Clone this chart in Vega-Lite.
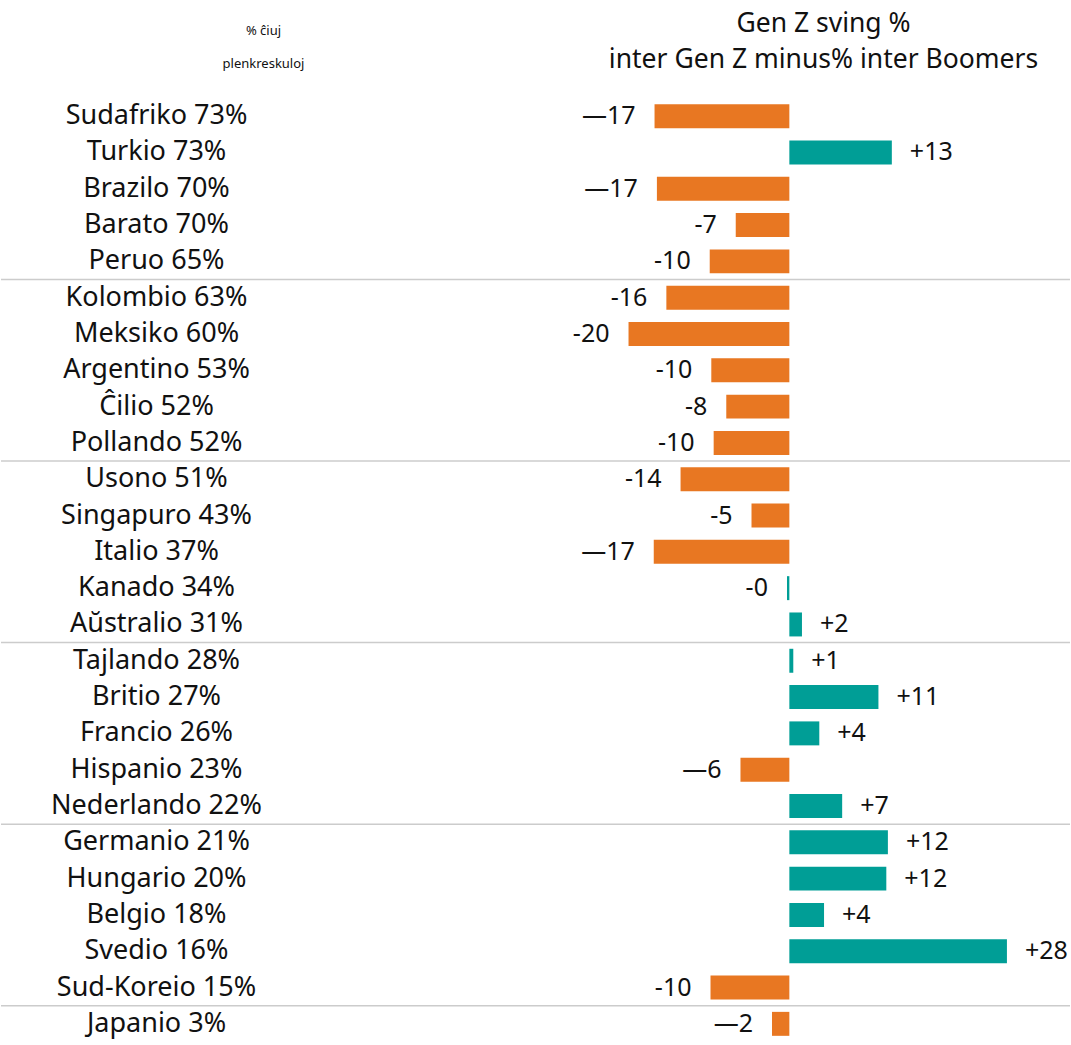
{
  "$schema": "https://vega.github.io/schema/vega-lite/v6.json",
  "width": 1071,
  "height": 1045,
  "autosize": {"type": "fit", "contains": "padding"},
  "padding": {"top": 10, "bottom": 3, "left": 0, "right": 0},
  "background": "white",
  "config": {"view": {"stroke": null}, "font": "Noto Sans"},
  "data": {
    "values": [
      {"label": "Sudafriko 73%", "value": -17.1, "txt": "—17", "dir": "down"},
      {"label": "Turkio 73%", "value": 13.0, "txt": "+13", "dir": "up"},
      {"label": "Brazilo 70%", "value": -16.8, "txt": "—17", "dir": "down"},
      {"label": "Barato 70%", "value": -6.8, "txt": "-7", "dir": "down"},
      {"label": "Peruo 65%", "value": -10.1, "txt": "-10", "dir": "down"},
      {"label": "Kolombio 63%", "value": -15.6, "txt": "-16", "dir": "down"},
      {"label": "Meksiko 60%", "value": -20.4, "txt": "-20", "dir": "down"},
      {"label": "Argentino 53%", "value": -9.9, "txt": "-10", "dir": "down"},
      {"label": "Ĉilio 52%", "value": -8.0, "txt": "-8", "dir": "down"},
      {"label": "Pollando 52%", "value": -9.6, "txt": "-10", "dir": "down"},
      {"label": "Usono 51%", "value": -13.8, "txt": "-14", "dir": "down"},
      {"label": "Singapuro 43%", "value": -4.8, "txt": "-5", "dir": "down"},
      {"label": "Italio 37%", "value": -17.2, "txt": "—17", "dir": "down"},
      {"label": "Kanado 34%", "value": -0.3, "txt": "-0", "dir": "up"},
      {"label": "Aŭstralio 31%", "value": 1.6, "txt": "+2", "dir": "up"},
      {"label": "Tajlando 28%", "value": 0.5, "txt": "+1", "dir": "up"},
      {"label": "Britio 27%", "value": 11.3, "txt": "+11", "dir": "up"},
      {"label": "Francio 26%", "value": 3.8, "txt": "+4", "dir": "up"},
      {"label": "Hispanio 23%", "value": -6.2, "txt": "—6", "dir": "down"},
      {"label": "Nederlando 22%", "value": 6.7, "txt": "+7", "dir": "up"},
      {"label": "Germanio 21%", "value": 12.5, "txt": "+12", "dir": "up"},
      {"label": "Hungario 20%", "value": 12.3, "txt": "+12", "dir": "up"},
      {"label": "Belgio 18%", "value": 4.4, "txt": "+4", "dir": "up"},
      {"label": "Svedio 16%", "value": 27.6, "txt": "+28", "dir": "up"},
      {"label": "Sud-Koreio 15%", "value": -10.0, "txt": "-10", "dir": "down"},
      {"label": "Japanio 3%", "value": -2.2, "txt": "—2", "dir": "down"}
    ]
  },
  "encoding": {
    "y": {
      "field": "label",
      "type": "nominal",
      "sort": null,
      "scale": {"paddingInner": 0, "paddingOuter": 0},
      "axis": {
        "title": ["% ĉiuj", "plenkreskuloj"],
        "titleFontSize": 13,
        "titleFontWeight": "normal",
        "titleColor": "#111111",
        "titleAngle": 0,
        "titleAlign": "center",
        "titleBaseline": "alphabetic",
        "titleX": 262,
        "titleY": -64,
        "titleLineHeight": 33,
        "domain": false,
        "ticks": false,
        "labelFontSize": 27,
        "labelColor": "#111111",
        "labelAlign": "center",
        "labelPadding": -155,
        "labelLimit": 0
      }
    }
  },
  "layer": [
    {
      "mark": {"type": "bar", "height": {"band": 0.66}},
      "encoding": {
        "x": {
          "field": "value",
          "type": "quantitative",
          "scale": {"domain": [-100, 35.6], "nice": false, "zero": false},
          "axis": {
            "orient": "top",
            "labels": false,
            "ticks": false,
            "domain": false,
            "grid": false,
            "title": ["Gen Z sving %", "inter Gen Z minus% inter Boomers"],
            "titleFontSize": 26.5,
            "titleFontWeight": "normal",
            "titleColor": "#111111",
            "titleAlign": "center",
            "titleBaseline": "alphabetic",
            "titleLineHeight": 36,
            "titleX": 822,
            "titleY": -67
          }
        },
        "color": {
          "field": "dir",
          "type": "nominal",
          "scale": {"domain": ["down", "up"], "range": ["#E87722", "#009E96"]},
          "legend": null
        }
      }
    },
    {
      "transform": [{"filter": "datum.value < 0"}],
      "mark": {"type": "text", "align": "right", "baseline": "middle", "dx": -19, "fontSize": 25, "color": "#111111"},
      "encoding": {
        "x": {"field": "value", "type": "quantitative"},
        "text": {"field": "txt"}
      }
    },
    {
      "transform": [{"filter": "datum.value >= 0"}],
      "mark": {"type": "text", "align": "left", "baseline": "middle", "dx": 18, "fontSize": 25, "color": "#111111"},
      "encoding": {
        "x": {"field": "value", "type": "quantitative"},
        "text": {"field": "txt"}
      }
    },
    {
      "transform": [{"filter": {"field": "label", "oneOf": ["Peruo 65%", "Pollando 52%", "Aŭstralio 31%", "Nederlando 22%", "Sud-Koreio 15%"]}}],
      "mark": {"type": "rule", "color": "#cccccc", "strokeWidth": 1.5},
      "encoding": {
        "y": {"field": "label", "type": "nominal", "sort": null, "bandPosition": 1}
      }
    }
  ]
}
